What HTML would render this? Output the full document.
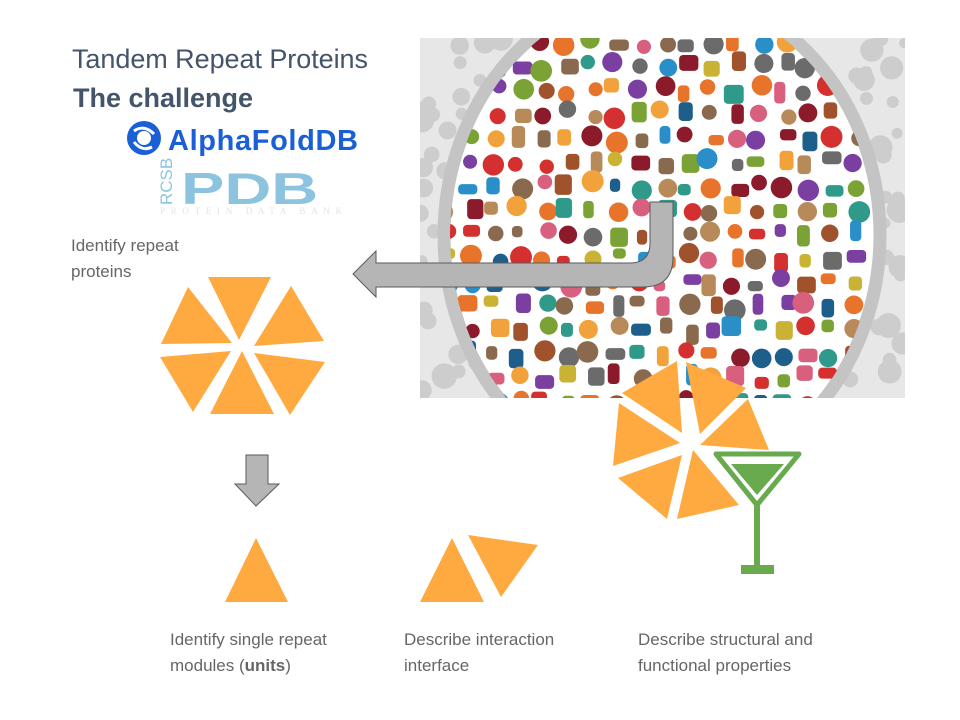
<!DOCTYPE html>
<html><head><meta charset="utf-8"><style>
body{margin:0;width:960px;height:720px;background:#fff;overflow:hidden;position:relative;font-family:"Liberation Sans",sans-serif}
.t{position:absolute;color:#666;font-size:17px;line-height:26px}
</style></head><body>
<svg id="s" width="960" height="720" style="position:absolute;left:0;top:0">
<defs><clipPath id="ic"><rect x="420" y="38" width="485" height="360"/></clipPath>
<clipPath id="cc"><ellipse cx="662" cy="235" rx="212" ry="240"/></clipPath></defs>
<g clip-path="url(#ic)">
<rect x="420" y="38" width="485" height="360" fill="#e7e7e7"/>
<g id="bgb" fill="#cdcdcd"></g>
<ellipse cx="662" cy="235" rx="218" ry="246" fill="#fff" stroke="#c4c4c4" stroke-width="13"/>
<g id="food" clip-path="url(#cc)"></g>
</g>
<path d="M650,202 H673 V257 Q673,287 643,287 H376 V297 L353,274 L376,251 V263 H630 Q650,263 650,243 Z" fill="#b5b5b5" stroke="#5a5a5a" stroke-width="1"/>
<g fill="#ffaa40">
<polygon points="208,277 271,277 239,340"/>
<polygon points="188,287 232,343 161,344"/>
<polygon points="291,286 324,341 254,346"/>
<polygon points="160,357 231,351 193,412"/>
<polygon points="242,351 274,414 210,414"/>
<polygon points="254,353 325,362 290,415"/>
<polygon points="256,538 225,602 288,602"/>
<polygon points="452,538 420,602 484,602"/>
<polygon points="468,535 538,545 501,597"/>
<polygon points="622,393 677,361 682,433"/>
<polygon points="686,362 746,388 700,434"/>
<polygon points="619,403 680,443 613,466"/>
<polygon points="748,399 769,450 700,445"/>
<polygon points="618,478 682,455 667,519"/>
<polygon points="693,450 739,505 677,519"/>
</g>
<path d="M246,455 H268 V484 H279 L256,506 L235,484 H246 Z" fill="#b5b5b5" stroke="#5a5a5a" stroke-width="1"/>
<g fill="#6aaa4e">
<polygon points="716,454 799,454 757,505" fill="none" stroke="#6aaa4e" stroke-width="5" stroke-linejoin="round"/>
<polygon points="731,464 784,464 757,495"/>
<rect x="754" y="502" width="6" height="66"/>
<rect x="741" y="565" width="33" height="9"/>
</g>
<text x="72" y="68" font-size="27" fill="#44546a" textLength="296">Tandem Repeat Proteins</text>
<text x="73" y="107" font-size="27" fill="#44546a" font-weight="bold" textLength="180">The challenge</text>
<circle cx="144" cy="138" r="17" fill="#1a5fd6"/>
<circle cx="144" cy="138" r="7" fill="#fff"/>
<path d="M134,131 Q144,124 154,134" stroke="#fff" stroke-width="3" fill="none"/>
<path d="M152,147 Q142,152 134,142" stroke="#fff" stroke-width="3" fill="none"/>
<text x="168" y="150" font-size="29" fill="#1a5fd6" font-weight="bold" textLength="190">AlphaFoldDB</text>
<text x="181" y="204" font-size="52" fill="#8cc4e0" font-weight="bold" transform="translate(181,204) scale(1.25,0.85) translate(-181,-204)">PDB</text>
<text transform="translate(172,205) rotate(-90)" font-size="17" fill="#8cc4e0">RCSB</text>
<text x="160" y="214" font-size="9" fill="#e4e4e4" textLength="182" font-family="Liberation Serif">PROTEIN DATA BANK</text>
</svg>
<div class="t" style="left:71px;top:233px">Identify repeat<br>proteins</div>
<div class="t" style="left:170px;top:627px">Identify single repeat<br>modules (<b>units</b>)</div>
<div class="t" style="left:404px;top:627px">Describe interaction<br>interface</div>
<div class="t" style="left:638px;top:627px">Describe structural and<br>functional properties</div>
<script>
(function(){
var ns="http://www.w3.org/2000/svg",f=document.getElementById("food"),b=document.getElementById("bgb");
var cols=["#d4302f","#8b1a2a","#e8732a","#f2a23a","#7aa235","#2a8fc8","#1e5e8a","#8a6a4f","#a0522d","#7a3fa0","#c9b234","#6b6b6b","#d95f7f","#2f9a8a","#b88a5a"];
var s=7;function r(){s=(s*9301+49297)%233280;return s/233280;}
for(var i=0;i<260;i++){var x=420+r()*485,y=38+r()*360;var e=document.createElementNS(ns,"circle");e.setAttribute("cx",x);e.setAttribute("cy",y);e.setAttribute("r",5+r()*8);b.appendChild(e);}
for(var gy=18;gy<440;gy+=24)for(var gx=448;gx<880;gx+=24){var x=gx+(r()-.5)*10,y=gy+(r()-.5)*10;
var e;if(r()<.5){e=document.createElementNS(ns,"circle");e.setAttribute("cx",x);e.setAttribute("cy",y);e.setAttribute("r",7+r()*4);}
else{e=document.createElementNS(ns,"rect");var w=10+r()*10,h=10+r()*12;e.setAttribute("x",x-w/2);e.setAttribute("y",y-h/2);e.setAttribute("width",w);e.setAttribute("height",h);e.setAttribute("rx",4);}
e.setAttribute("fill",cols[Math.floor(r()*cols.length)]);f.appendChild(e);}
})();
</script>
</body></html>
